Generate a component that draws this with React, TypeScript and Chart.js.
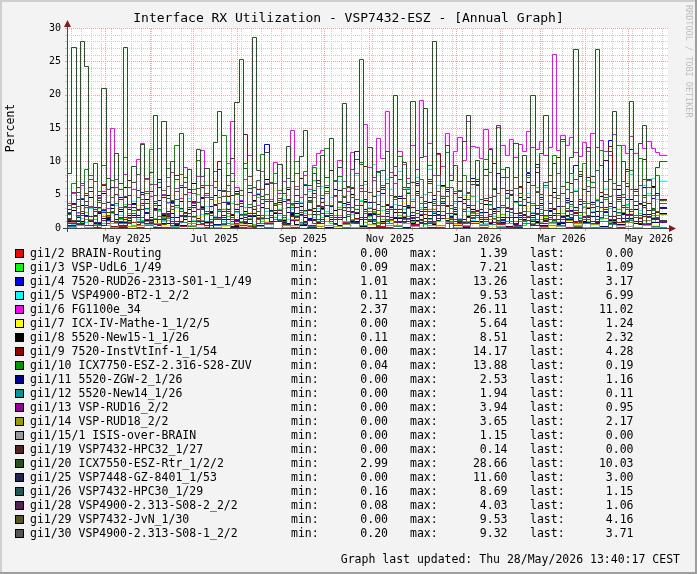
import React, { useEffect, useRef } from 'react';
import { Chart, registerables } from 'chart.js';

Chart.register(...registerables);

const MONO = '"DejaVu Sans Mono", monospace';

const TITLE = 'Interface RX Utilization - VSP7432-ESZ - [Annual Graph]';
const Y_TITLE = 'Percent';
const FOOTER = 'Graph last updated: Thu 28/May/2026 13:40:17 CEST';
const WATERMARK = 'RRDTOOL / TOBI OETIKER';

// time axis: days since 1 May 2025
const X_START = -26.9;
const X_END = 392.6;
const MONTH_STARTS = [-30, 0, 31, 61, 92, 123, 153, 184, 214, 245, 276, 304, 335, 365];
const X_LABELS = ['May 2025', 'Jul 2025', 'Sep 2025', 'Nov 2025', 'Jan 2026', 'Mar 2026', 'May 2026'];
const X_LABEL_DAYS = [15, 76, 138, 199, 260, 319, 380];
const FIRST_WEEK = -24;
const Y_MAX = 30;
const Y_STEP = 5;

// data resolution (days per value)
const STEP_FINE = 3;
const STEP_COARSE = 6;

const SERIES_NAMES = [
  'gi1/2 BRAIN-Routing', 'gi1/3 VSP-UdL6_1/49', 'gi1/4 7520-RUD26-2313-S01-1_1/49', 'gi1/5 VSP4900-BT2-1_2/2',
  'gi1/6 FG1100e_34', 'gi1/7 ICX-IV-Mathe-1_1/2/5', 'gi1/8 5520-New15-1_1/26', 'gi1/9 7520-InstVtInf-1_1/54',
  'gi1/10 ICX7750-ESZ-2.316-S28-ZUV', 'gi1/11 5520-ZGW-2_1/26', 'gi1/12 5520-New14_1/26', 'gi1/13 VSP-RUD16_2/2',
  'gi1/14 VSP-RUD18_2/2', 'gi1/15/1 ISIS-over-BRAIN', 'gi1/19 VSP7432-HPC32_1/27', 'gi1/20 ICX7550-ESZ-Rtr_1/2/2',
  'gi1/25 VSP7448-GZ-8401_1/53', 'gi1/26 VSP7432-HPC30_1/29', 'gi1/28 VSP4900-2.313-S08-2_2/2', 'gi1/29 VSP7432-JvN_1/30',
  'gi1/30 VSP4900-2.313-S08-1_2/2',
];
const SERIES_COLORS = [
  '#FF0000', '#00FF00', '#0000FF', '#00FFFF', '#FF00FF', '#FFFF00', '#000000', '#990000',
  '#009900', '#000099', '#009999', '#990099', '#999900', '#999999', '#552222', '#225522',
  '#222255', '#225555', '#552255', '#555522', '#555555',
];
const LEGEND_MIN = ['0.00', '0.09', '1.01', '0.11', '2.37', '0.00', '0.11', '0.00', '0.04', '0.00', '0.00', '0.00', '0.00', '0.00', '0.00', '2.99', '0.00', '0.16', '0.08', '0.00', '0.20'];
const LEGEND_MAX = ['1.39', '7.21', '13.26', '9.53', '26.11', '5.64', '8.51', '14.17', '13.88', '2.53', '1.94', '3.94', '3.65', '1.15', '0.14', '28.66', '11.60', '8.69', '4.03', '9.53', '9.32'];
const LEGEND_LAST = ['0.00', '1.09', '3.17', '6.99', '11.02', '1.24', '2.32', '4.28', '0.19', '1.16', '0.11', '0.95', '2.17', '0.00', '0.00', '10.03', '3.00', '1.15', '1.06', '4.16', '3.71'];

const gi1_2 = [
  0.2, 0.0, 0.4, 0.1, 0.7, 0.0, 0.3, 0.9, 0.1, 0.5,
  0.0, 0.2, 1.1, 0.3, 0.0, 0.6, 0.2, 0.4, 0.0, 0.8,
  0.1, 0.3, 1.39, 0.2, 0.0, 0.5, 0.1, 0.7, 0.3, 0.0,
  0.4, 0.2, 0.9, 0.1, 0.0, 0.6, 0.3, 0.2, 1.0, 0.0,
  0.4, 0.1, 0.7, 0.2, 0.0, 0.5, 0.3, 0.8, 0.1, 0.0,
  0.6, 0.2, 0.4, 1.2, 0.0, 0.3, 0.1, 0.5, 0.2, 0.9,
  0.0, 0.4, 0.2, 0.6, 0.1, 0.3, 0.0, 0.7, 0.2, 0.0,
];
const gi1_3 = [
  1.1, 0.6, 1.8, 0.9, 2.4, 0.5, 1.3, 3.0, 0.8, 1.6,
  2.2, 0.7, 1.4, 3.6, 1.0, 0.4, 2.0, 1.2, 4.3, 0.9,
  1.5, 2.7, 0.6, 1.9, 0.09, 3.2, 1.1, 2.4, 0.8, 1.7,
  5.1, 1.0, 2.1, 0.7, 1.4, 2.9, 0.5, 1.8, 3.8, 1.2,
  0.8, 2.3, 1.5, 0.6, 4.6, 1.1, 2.0, 0.9, 1.6, 2.8,
  1.3, 0.7, 3.4, 1.9, 0.5, 2.5, 1.2, 7.21, 0.9, 1.7,
  2.2, 0.8, 1.4, 3.1, 1.0, 0.6, 2.6, 1.5, 4.0, 0.9,
  1.8, 2.4, 0.7, 1.3, 3.5, 1.1, 0.5, 2.0, 1.6, 5.4,
  0.9, 1.7, 2.9, 0.6, 1.4, 2.2, 1.0, 3.7, 0.8, 1.5,
  2.6, 1.2, 0.7, 1.9, 4.8, 1.1, 2.3, 0.6, 1.4, 3.0,
  1.0, 2.1, 0.8, 1.6, 3.9, 1.3, 0.5, 2.5, 1.2, 6.1,
  0.9, 1.8, 2.7, 1.0, 0.6, 2.2, 1.5, 3.3, 0.8, 1.9,
  2.4, 1.1, 0.7, 4.4, 1.6, 2.0, 0.9, 1.3, 2.8, 1.0,
  3.6, 1.4, 0.8, 2.3, 1.2, 5.0, 1.7, 0.9, 1.09,
];
const gi1_4 = [
  2.3, 3.8, 1.6, 4.4, 2.0, 1.2, 3.1, 5.0, 2.7, 1.8,
  3.5, 2.1, 4.7, 1.4, 2.9, 3.6, 1.9, 5.4, 2.4, 1.3,
  3.0, 4.2, 2.2, 1.5, 3.9, 2.6, 6.1, 1.7, 2.8, 3.4,
  1.1, 4.6, 2.5, 3.3, 1.8, 5.7, 2.0, 3.7, 1.4, 2.9,
  4.1, 1.6, 3.2, 2.3, 5.1, 1.9, 12.6, 2.7, 3.5, 1.3,
  4.0, 2.4, 1.7, 3.8, 2.1, 6.4, 1.5, 3.0, 2.6, 4.5,
  1.8, 3.3, 5.8, 2.0, 1.01, 3.6, 2.5, 4.3, 1.7, 2.9,
  3.9, 1.4, 2.7, 5.3, 2.2, 3.1, 1.6, 4.8, 2.4, 3.5,
  1.9, 6.8, 2.6, 3.2, 1.5, 4.4, 2.1, 3.7, 5.6, 1.8,
  2.9, 4.0, 1.3, 3.4, 7.5, 2.3, 3.8, 1.7, 4.6, 2.5,
  3.1, 1.6, 5.2, 2.8, 4.1, 1.9, 3.5, 8.3, 2.2, 3.0,
  4.7, 1.5, 2.6, 6.0, 3.3, 1.8, 4.2, 2.7, 9.4, 3.6,
  2.0, 5.5, 3.9, 1.4, 4.8, 2.4, 13.26, 3.2, 5.0, 2.1,
  4.3, 11.8, 2.9, 3.7, 6.2, 1.7, 4.5, 2.6, 3.17,
];
const gi1_5 = [
  1.2, 0.6, 2.3, 1.5, 0.9, 3.0, 1.8, 0.4, 2.6, 1.1,
  0.7, 3.4, 1.9, 0.5, 2.2, 4.1, 1.3, 0.8, 2.8, 1.6,
  0.3, 2.5, 1.0, 3.7, 1.4, 0.6, 2.9, 1.7, 4.5, 1.2,
  0.9, 2.1, 3.3, 0.11, 1.8, 2.7, 1.1, 4.0, 0.8, 2.4,
  1.5, 3.1, 0.7, 2.0, 5.2, 1.3, 2.6, 0.9, 3.5, 1.9,
  4.3, 1.4, 2.8, 0.6, 3.9, 2.2, 5.6, 1.7, 3.0, 6.3,
  2.5, 4.7, 1.6, 7.1, 3.4, 5.5, 2.1, 8.0, 4.2, 6.6,
  3.1, 9.53, 4.9, 2.7, 7.4, 5.8, 3.6, 8.5, 2.9, 6.0,
  4.4, 7.7, 3.2, 5.1, 8.8, 2.4, 6.5, 3.9, 4.8, 2.0,
  3.7, 1.5, 5.0, 2.6, 1.2, 4.1, 2.3, 0.8, 3.4, 1.8,
  2.9, 1.1, 4.6, 2.0, 0.7, 3.6, 1.6, 5.3, 2.4, 1.0,
  3.2, 6.1, 1.9, 2.8, 4.5, 1.4, 3.8, 2.1, 5.7, 1.7,
  3.3, 7.2, 2.5, 4.0, 1.3, 5.9, 3.0, 6.8, 2.2, 4.6,
  3.5, 8.1, 4.9, 2.7, 6.4, 5.2, 7.5, 4.3, 6.99,
];
const gi1_6 = [
  3.8, 5.2, 2.37, 6.4, 4.1, 3.3, 7.0, 4.6, 5.5, 3.0,
  15.0, 6.2, 4.3, 8.1, 3.6, 5.8, 10.4, 12.7, 7.3, 4.8,
  6.6, 12.0, 5.1, 3.9, 8.4, 6.0, 4.5, 9.2, 5.4, 3.7,
  7.8, 11.7, 4.9, 6.5, 3.4, 8.8, 5.6, 9.7, 16.0, 6.1,
  4.2, 7.4, 11.0, 5.0, 3.5, 8.6, 6.8, 4.4, 9.9, 5.3,
  7.1, 3.8, 14.7, 6.3, 4.7, 8.0, 5.9, 9.4, 11.3, 11.7,
  6.4, 8.7, 4.8, 10.2, 7.0, 5.5, 11.4, 8.3, 6.0, 15.6,
  9.1, 7.2, 13.5, 10.5, 17.5, 8.4, 6.7, 11.5, 9.6, 7.5,
  12.4, 8.9, 19.2, 10.8, 12.8, 7.9, 11.1, 9.3, 14.2, 8.0,
  11.6, 13.7, 10.2, 16.0, 12.3, 12.1, 10.5, 14.8, 12.0, 9.8,
  15.2, 12.4, 11.0, 13.4, 10.6, 12.6, 11.5, 14.5, 12.2, 11.8,
  13.0, 10.9, 12.2, 26.11, 11.7, 14.0, 12.4, 13.6, 11.4, 10.8,
  12.9, 11.5, 14.3, 12.1, 13.2, 11.6, 10.9, 14.1, 12.4, 12.5,
  11.3, 13.8, 11.2, 12.7, 12.0, 13.1, 12.0, 11.4, 11.02,
];
const gi1_7 = [
  0.3, 1.2, 0.5, 0.0, 2.1, 0.8, 1.5, 0.2, 3.4, 0.6,
  1.0, 0.4, 2.6, 0.9, 0.1, 1.8, 0.7, 4.2, 0.3, 1.3,
  0.6, 2.4, 0.0, 1.1, 5.64, 0.5, 1.7, 0.9, 2.9, 0.4,
  1.4, 0.2, 3.1, 0.8, 1.6, 0.5, 2.2, 1.0, 0.3, 3.8,
  0.7, 1.9, 0.4, 2.5, 1.2, 0.6, 4.6, 0.9, 1.5, 0.3,
  2.0, 1.1, 0.5, 3.3, 0.8, 1.7, 0.2, 2.7, 1.0, 0.6,
  1.9, 0.4, 3.0, 1.3, 0.7, 2.3, 0.9, 1.6, 0.5, 1.24,
];
const gi1_8 = [
  1.0, 2.7, 0.5, 3.4, 1.8, 4.6, 0.9, 2.2, 5.3, 1.4,
  3.0, 0.7, 2.5, 6.1, 1.2, 3.8, 0.6, 2.9, 4.4, 1.6,
  0.8, 3.5, 1.9, 5.0, 2.3, 0.5, 4.1, 1.3, 2.8, 6.7,
  1.1, 3.2, 0.9, 2.4, 4.9, 1.7, 0.4, 3.6, 2.0, 5.5,
  1.5, 2.6, 0.7, 4.2, 1.9, 3.1, 7.4, 0.8, 2.3, 3.9,
  1.2, 5.8, 2.1, 0.6, 3.3, 1.6, 4.7, 2.5, 0.9, 3.0,
  6.2, 1.4, 2.7, 0.5, 3.7, 1.8, 5.1, 2.2, 0.11, 4.0,
  1.3, 2.9, 8.51, 1.0, 3.4, 0.7, 2.4, 4.5, 1.7, 3.2,
  0.8, 5.6, 2.0, 1.5, 3.9, 0.6, 2.6, 6.4, 1.2, 3.5,
  2.1, 0.9, 4.3, 1.8, 2.8, 7.1, 1.1, 3.6, 0.7, 2.5,
  5.2, 1.6, 3.1, 0.8, 2.3, 4.6, 1.4, 6.9, 2.0, 0.9,
  3.8, 1.3, 2.7, 5.4, 0.6, 3.3, 1.9, 4.1, 2.4, 7.8,
  1.0, 3.0, 0.7, 2.6, 4.8, 1.5, 3.7, 0.9, 5.9, 2.2,
  1.2, 4.4, 2.8, 0.6, 3.5, 1.7, 6.3, 2.0, 2.32,
];
const gi1_9 = [
  1.3, 3.6, 0.5, 2.2, 5.0, 1.0, 0.0, 3.1, 6.4, 1.7,
  2.5, 0.8, 4.3, 1.4, 7.2, 2.0, 0.6, 3.8, 1.2, 5.5,
  2.9, 0.4, 4.6, 1.8, 3.3, 8.0, 1.1, 2.4, 0.7, 4.0,
  1.5, 6.1, 2.6, 0.9, 3.5, 10.1, 1.9, 4.8, 2.1, 0.5,
  3.7, 14.17, 1.4, 2.8, 5.9, 0.8, 3.0, 1.6, 6.8, 2.3,
  0.6, 4.4, 1.8, 3.2, 7.5, 1.0, 2.7, 5.2, 0.9, 3.9,
  2.0, 8.7, 1.3, 4.1, 0.7, 2.5, 6.0, 1.5, 3.4, 9.3,
  1.1, 2.9, 5.6, 0.8, 3.6, 1.7, 7.9, 2.4, 4.5, 1.0,
  3.1, 6.5, 1.4, 2.6, 0.5, 4.9, 11.2, 1.9, 3.3, 2.2,
  5.3, 0.9, 3.8, 1.6, 7.0, 2.7, 0.6, 4.2, 1.8, 9.8,
  2.5, 1.2, 5.7, 3.0, 0.8, 6.3, 2.1, 4.6, 1.3, 8.4,
  3.5, 1.0, 5.0, 2.8, 10.6, 1.7, 3.9, 6.7, 2.2, 4.0,
  1.4, 7.6, 3.2, 0.9, 5.4, 2.6, 12.3, 1.8, 4.7, 3.1,
  8.9, 2.0, 5.8, 1.5, 10.4, 3.7, 6.2, 2.4, 4.28,
];
const gi1_10 = [
  2.4, 6.8, 1.2, 4.5, 8.9, 3.1, 0.7, 5.6, 9.4, 2.0,
  7.2, 3.8, 1.5, 10.6, 4.9, 2.7, 8.1, 0.9, 5.3, 11.8,
  3.4, 6.9, 1.8, 9.0, 4.2, 12.5, 2.6, 7.7, 0.5, 5.9,
  10.2, 3.0, 6.4, 1.3, 8.6, 4.7, 13.88, 2.2, 7.0, 5.1,
  1.0, 9.7, 3.6, 6.1, 0.8, 11.1, 4.4, 2.5, 8.3, 5.7,
  1.9, 7.5, 3.2, 10.0, 0.6, 6.6, 4.0, 9.2, 2.1, 5.0,
  12.0, 3.5, 1.4, 7.8, 4.8, 0.9, 6.2, 2.8, 9.9, 3.9,
  5.4, 1.1, 8.4, 3.3, 6.7, 0.7, 4.6, 10.8, 2.3, 5.8,
  1.6, 7.1, 3.7, 0.04, 9.5, 4.1, 2.0, 6.3, 11.4, 3.0,
  5.5, 1.2, 8.0, 4.3, 2.4, 7.4, 0.9, 10.3, 3.6, 6.0,
  1.7, 8.8, 4.5, 2.9, 12.7, 5.2, 1.0, 7.6, 3.4, 9.1,
  2.2, 6.5, 0.8, 10.9, 4.9, 13.1, 2.7, 8.2, 5.6, 1.5,
  9.8, 3.8, 6.9, 1.3, 11.7, 4.4, 7.3, 2.5, 12.4, 5.1,
  3.1, 8.7, 1.9, 10.5, 4.6, 6.1, 2.8, 7.9, 0.19,
];
const gi1_11 = [
  0.4, 1.1, 0.2, 0.8, 1.5, 0.3, 0.9, 2.0, 0.5, 1.2,
  0.0, 0.7, 1.6, 0.4, 1.0, 0.2, 2.53, 0.6, 1.3, 0.3,
  0.9, 1.8, 0.5, 0.1, 1.1, 0.7, 2.2, 0.4, 1.4, 0.8,
  0.2, 1.7, 0.6, 1.0, 0.3, 2.1, 0.9, 0.5, 1.5, 0.2,
  1.2, 0.7, 1.9, 0.4, 0.8, 1.3, 0.1, 1.0, 2.4, 0.6,
  0.9, 0.3, 1.6, 0.8, 1.1, 0.4, 2.0, 0.7, 1.4, 0.5,
  0.9, 1.8, 0.3, 1.2, 0.6, 1.5, 0.8, 2.1, 0.9, 1.16,
];
const gi1_12 = [
  0.3, 0.8, 0.1, 0.5, 1.2, 0.2, 0.7, 0.0, 1.0, 0.4,
  0.6, 1.5, 0.2, 0.9, 0.3, 0.0, 1.1, 0.5, 0.8, 0.1,
  1.94, 0.4, 0.7, 0.2, 1.3, 0.6, 0.0, 0.9, 0.3, 1.0,
  0.5, 1.6, 0.2, 0.8, 0.4, 1.2, 0.1, 0.7, 0.3, 1.4,
  0.6, 0.0, 0.9, 0.5, 1.1, 0.2, 0.8, 1.7, 0.4, 0.6,
  0.1, 1.0, 0.3, 0.7, 1.3, 0.2, 0.9, 0.5, 1.5, 0.3,
  0.8, 0.1, 1.1, 0.6, 0.4, 1.2, 0.2, 0.7, 0.3, 0.11,
];
const gi1_13 = [
  0.8, 1.9, 0.5, 2.6, 1.2, 0.3, 1.7, 3.1, 0.9, 1.4,
  0.6, 2.2, 1.0, 0.0, 1.8, 2.9, 0.7, 1.3, 3.94, 1.1,
  0.4, 2.0, 1.5, 0.8, 2.7, 0.6, 1.2, 1.9, 0.5, 3.3,
  1.0, 1.6, 0.7, 2.4, 1.3, 0.2, 1.8, 2.8, 0.9, 1.5,
  0.6, 2.1, 1.1, 3.5, 0.8, 1.4, 0.4, 2.5, 1.7, 0.9,
  1.2, 3.0, 0.5, 1.6, 2.2, 0.8, 1.3, 0.3, 2.6, 1.0,
  1.8, 0.7, 3.2, 1.4, 0.9, 2.0, 1.1, 0.6, 1.5, 0.95,
];
const gi1_14 = [
  0.9, 0.4, 1.3, 0.6, 1.8, 0.2, 1.0, 2.3, 0.5, 1.1,
  0.7, 1.6, 0.3, 2.0, 0.8, 1.2, 0.0, 1.5, 2.8, 0.6,
  1.0, 0.4, 1.7, 0.9, 3.65, 0.5, 1.3, 0.8, 2.1, 0.3,
  1.1, 1.9, 0.6, 1.4, 0.2, 2.5, 0.9, 1.2, 0.5, 1.8,
  1.0, 0.7, 2.9, 0.4, 1.5, 0.8, 1.1, 2.2, 0.6, 1.3,
  0.3, 1.7, 1.0, 2.6, 0.7, 1.4, 0.5, 1.9, 1.2, 0.8,
  3.1, 0.6, 1.5, 1.0, 2.4, 0.9, 1.6, 1.2, 2.0, 2.17,
];
const gi1_15_1 = [
  0.2, 0.5, 0.1, 0.0, 0.4, 0.8, 0.2, 0.3, 0.0, 0.6,
  0.1, 1.15, 0.3, 0.0, 0.5, 0.2, 0.7, 0.1, 0.4, 0.0,
  0.9, 0.2, 0.3, 0.6, 0.0, 0.1, 0.5, 0.8, 0.2, 0.0,
  0.4, 0.3, 1.0, 0.1, 0.0, 0.6, 0.2, 0.4, 0.0, 0.7,
  0.3, 0.1, 0.5, 0.0, 0.9, 0.2, 0.4, 0.1, 0.6, 0.0,
  0.3, 0.8, 0.2, 0.0, 0.5, 0.1, 0.7, 0.3, 0.0, 0.4,
  0.2, 0.6, 0.1, 0.0, 0.5, 0.3, 0.2, 0.4, 0.1, 0.0,
];
const gi1_19 = [
  0.0, 0.02, 0.0, 0.05, 0.01, 0.0, 0.08, 0.0, 0.03, 0.0,
  0.14, 0.0, 0.02, 0.06, 0.0, 0.01, 0.0, 0.04, 0.0, 0.09,
  0.0, 0.02, 0.0, 0.07, 0.01, 0.0, 0.03, 0.0, 0.11, 0.0,
  0.02, 0.0, 0.05, 0.0, 0.01, 0.08, 0.0, 0.03, 0.0, 0.06,
  0.0, 0.02, 0.12, 0.0, 0.04, 0.0, 0.01, 0.0, 0.07, 0.0,
  0.03, 0.0, 0.09, 0.0, 0.02, 0.0, 0.05, 0.0, 0.01, 0.10,
  0.0, 0.03, 0.0, 0.06, 0.0, 0.02, 0.0, 0.04, 0.01, 0.0,
];
const gi1_20 = [
  8.2, 27.1, 5.4, 28.0, 24.3, 6.1, 9.8, 4.2, 21.0, 7.5,
  3.6, 11.2, 6.8, 27.1, 4.9, 9.3, 5.7, 12.6, 3.8, 8.4,
  17.0, 6.2, 16.0, 4.5, 10.1, 7.3, 14.2, 5.1, 8.9, 3.9,
  11.8, 6.4, 9.0, 4.7, 12.9, 17.5, 5.6, 7.9, 10.5, 18.9,
  25.3, 9.0, 6.0, 28.66, 8.7, 4.4, 11.4, 6.9, 3.7, 9.6,
  5.2, 12.3, 7.1, 4.0, 10.8, 14.7, 6.5, 8.3, 3.5, 11.0,
  7.7, 13.5, 5.0, 9.2, 18.7, 6.3, 4.6, 10.4, 25.3, 7.0,
  12.1, 4.8, 8.6, 5.9, 11.5, 3.3, 19.9, 7.4, 9.9, 6.1,
  19.0, 5.3, 10.7, 18.0, 6.7, 28.0, 8.0, 4.1, 12.4, 7.2,
  9.5, 5.5, 13.0, 17.0, 6.6, 10.2, 4.3, 8.8, 11.9, 5.8,
  15.5, 7.6, 9.1, 4.9, 12.7, 6.2, 10.9, 8.4, 20.0, 5.4,
  11.3, 17.0, 7.0, 9.7, 4.5, 13.3, 6.9, 10.6, 26.8, 8.1,
  5.9, 12.2, 7.8, 26.9, 9.4, 4.7, 11.6, 17.5, 6.4, 10.0,
  8.5, 19.0, 5.6, 12.8, 15.5, 7.3, 2.99, 9.1, 10.03,
];
const gi1_25 = [
  2.8, 1.1, 4.3, 0.7, 3.5, 5.6, 1.9, 2.4, 0.5, 3.9,
  6.2, 1.4, 2.9, 4.7, 0.8, 3.2, 1.6, 5.1, 2.2, 0.9,
  3.7, 7.4, 1.3, 2.6, 4.1, 0.6, 3.0, 1.8, 5.8, 2.5,
  1.0, 4.5, 2.3, 0.0, 3.6, 8.9, 1.7, 2.8, 4.9, 1.2,
  3.3, 0.7, 5.4, 2.0, 1.5, 3.8, 6.6, 1.1, 2.7, 4.2,
  0.9, 3.1, 1.9, 5.0, 2.4, 0.6, 4.6, 2.1, 7.2, 1.4,
  3.4, 2.2, 0.8, 5.7, 1.6, 3.9, 2.6, 11.60, 1.3, 4.4,
  2.0, 0.7, 3.6, 6.1, 1.8, 2.9, 4.8, 1.0, 3.3, 5.3,
  1.5, 2.7, 0.9, 4.0, 7.0, 2.3, 1.2, 3.7, 5.9, 1.6,
  2.5, 4.6, 0.8, 3.2, 1.9, 6.4, 2.8, 1.1, 4.1, 3.0,
  8.2, 1.4, 2.6, 5.1, 0.6, 3.5, 2.0, 4.7, 1.7, 9.6,
  2.9, 1.2, 3.8, 6.0, 2.2, 0.9, 4.5, 1.6, 3.1, 7.8,
  1.3, 5.5, 2.4, 0.7, 3.9, 10.2, 1.8, 2.6, 4.3, 1.1,
  6.3, 2.1, 3.4, 0.8, 4.9, 2.7, 1.5, 5.2, 3.00,
];
const gi1_26 = [
  1.5, 3.2, 0.8, 2.6, 4.1, 1.2, 2.9, 0.6, 3.7, 1.9,
  2.4, 5.1, 1.0, 3.3, 0.7, 2.2, 4.6, 1.6, 3.0, 0.9,
  2.7, 1.3, 4.9, 2.0, 0.5, 3.5, 1.8, 6.2, 2.3, 1.1,
  3.9, 0.8, 2.5, 4.4, 1.4, 2.8, 0.6, 3.6, 1.7, 5.3,
  2.1, 1.0, 3.1, 0.16, 2.6, 4.8, 1.5, 2.0, 3.4, 1.2,
  0.7, 4.2, 2.4, 1.6, 3.8, 0.9, 2.9, 5.7, 1.3, 2.2,
  3.5, 1.1, 0.6, 4.0, 2.7, 1.8, 3.2, 0.8, 6.5, 2.5,
  1.4, 3.9, 2.1, 8.69, 1.0, 2.8, 4.3, 1.7, 0.9, 3.3,
  2.4, 5.0, 1.2, 2.9, 0.7, 3.7, 1.9, 4.5, 2.2, 1.3,
  3.1, 0.8, 2.6, 5.4, 1.6, 2.0, 3.8, 1.1, 4.7, 2.3,
  0.9, 3.4, 1.7, 2.8, 6.0, 1.4, 2.5, 3.9, 0.6, 2.1,
  4.4, 1.5, 3.0, 2.2, 0.9, 5.2, 1.8, 3.6, 2.7, 1.2,
  4.1, 2.0, 0.7, 3.3, 1.6, 2.9, 4.8, 1.3, 2.4, 3.5,
  1.0, 2.6, 4.0, 1.9, 3.1, 0.8, 2.3, 1.7, 1.15,
];
const gi1_28 = [
  1.2, 0.6, 1.8, 0.9, 2.4, 1.1, 0.5, 1.6, 2.9, 0.8,
  1.4, 2.1, 0.7, 1.9, 3.2, 1.0, 0.4, 1.7, 2.6, 1.3,
  0.9, 2.2, 1.5, 4.03, 1.1, 0.6, 1.8, 2.7, 1.2, 0.8,
  2.0, 1.4, 3.1, 0.9, 1.6, 2.3, 0.08, 1.3, 2.8, 1.0,
  1.7, 0.7, 2.5, 1.5, 3.4, 1.1, 0.9, 2.0, 1.3, 2.9,
  0.8, 1.6, 2.2, 1.2, 0.5, 1.9, 3.0, 1.4, 0.9, 2.4,
  1.7, 1.1, 2.6, 0.7, 1.5, 2.1, 1.0, 1.8, 1.3, 1.06,
];
const gi1_29 = [
  3.4, 1.2, 6.1, 2.5, 5.2, 7.3, 1.8, 3.9, 6.6, 2.0,
  4.7, 0.9, 5.8, 3.1, 1.5, 6.9, 2.7, 4.4, 7.5, 1.3,
  5.0, 2.9, 0.6, 6.3, 3.7, 5.5, 8.1, 2.2, 4.1, 1.0,
  6.0, 3.3, 5.3, 1.9, 7.0, 2.6, 4.8, 6.5, 1.4, 3.6,
  5.7, 2.1, 7.8, 4.0, 0.8, 5.9, 3.0, 6.7, 2.4, 4.5,
  1.1, 6.2, 3.8, 8.3, 2.0, 5.1, 4.2, 0.7, 6.8, 3.2,
  5.6, 1.7, 7.2, 2.8, 4.6, 6.1, 1.2, 3.5, 9.53, 2.3,
  5.4, 3.9, 0.5, 6.4, 2.6, 7.6, 4.3, 1.6, 5.8, 3.0,
  6.9, 2.2, 4.7, 1.0, 7.4, 3.4, 5.5, 2.5, 6.2, 0.0,
  4.0, 7.1, 2.9, 5.2, 1.5, 6.6, 3.7, 8.0, 2.1, 4.8,
  0.9, 6.0, 3.1, 5.7, 7.7, 2.4, 4.3, 1.8, 6.5, 3.5,
  5.1, 2.7, 7.9, 1.2, 4.5, 6.3, 3.0, 5.4, 2.0, 8.5,
  3.8, 1.4, 6.1, 4.2, 2.6, 7.0, 3.3, 5.9, 1.9, 4.6,
  6.7, 2.8, 5.0, 3.6, 7.3, 1.7, 4.9, 2.5, 4.16,
];
const gi1_30 = [
  2.1, 5.4, 3.3, 6.8, 3.2, 7.9, 7.1, 4.5, 2.8, 5.9,
  2.6, 7.4, 3.1, 4.8, 6.2, 2.3, 8.1, 3.5, 5.6, 6.6,
  4.1, 1.8, 5.7, 7.6, 2.8, 4.4, 6.5, 6.9, 3.1, 5.2,
  1.2, 7.8, 4.6, 2.2, 6.1, 3.8, 5.7, 5.5, 8.3, 2.5,
  4.9, 1.4, 6.4, 3.3, 7.2, 2.0, 5.1, 6.9, 6.7, 4.2,
  1.7, 7.5, 3.6, 5.8, 2.4, 8.6, 3.9, 4.7, 6.3, 2.9,
  5.3, 1.0, 7.0, 3.9, 6.0, 2.1, 8.8, 4.3, 5.6, 5.6,
  3.0, 7.7, 2.7, 6.5, 1.3, 5.0, 9.32, 3.4, 6.2, 6.8,
  4.0, 1.1, 7.3, 3.7, 5.4, 2.6, 8.0, 4.8, 4.8, 6.2,
  2.3, 5.7, 0.8, 7.1, 3.5, 6.6, 2.0, 4.5, 8.4, 1.5,
  5.2, 3.1, 7.6, 2.4, 6.0, 4.1, 1.2, 7.9, 3.8, 5.5,
  2.8, 6.9, 1.7, 4.6, 8.2, 3.3, 5.9, 2.1, 7.4, 4.4,
  1.4, 6.3, 3.6, 8.7, 2.5, 5.1, 0.20, 6.7, 4.0, 7.0,
  2.9, 5.8, 1.6, 6.4, 3.9, 7.2, 2.7, 5.0, 3.71,
];

const SERIES_VALUES = [
  gi1_2, gi1_3, gi1_4, gi1_5, gi1_6, gi1_7, gi1_8, gi1_9, gi1_10, gi1_11, gi1_12,
  gi1_13, gi1_14, gi1_15_1, gi1_19, gi1_20, gi1_25, gi1_26, gi1_28, gi1_29, gi1_30,
];
const SERIES_STEPS = [
  STEP_COARSE, STEP_FINE, STEP_FINE, STEP_FINE, STEP_FINE, STEP_COARSE, STEP_FINE, STEP_FINE, STEP_FINE, STEP_COARSE, STEP_COARSE,
  STEP_COARSE, STEP_COARSE, STEP_COARSE, STEP_COARSE, STEP_FINE, STEP_FINE, STEP_FINE, STEP_COARSE, STEP_FINE, STEP_FINE,
];

// ---------- styling ----------
const BG = '#F3F3F3';
const CANVAS_BG = '#FFFFFF';
const SHADE_A = '#CFCFCF';
const SHADE_B = '#9E9E9E';
const GRID_MINOR = '#CACACA';
const GRID_MAJOR = '#EFA0A0';
const AXIS_COLOR = '#3A4A44';
const ARROW_COLOR = '#8B1A1A';

function toPoints(values: number[], step: number) {
  const pts = values.map((v, i) => ({ x: X_START + i * step, y: v }));
  pts.push({ x: X_END, y: values[values.length - 1] });
  return pts;
}

const snapPlugin = {
  id: 'snap',
  afterDatasetsUpdate(chart: any) {
    chart.getSortedVisibleDatasetMetas().forEach((meta: any) => {
      meta.data.forEach((p: any) => {
        p.x = Math.round(p.x) + 0.5;
        p.y = Math.round(p.y) + 0.5;
      });
    });
  },
};

function seg(ctx: CanvasRenderingContext2D, x1: number, y1: number, x2: number, y2: number) {
  ctx.beginPath();
  ctx.moveTo(x1, y1);
  ctx.lineTo(x2, y2);
  ctx.stroke();
}

const decorPlugin = {
  id: 'rrdDecor',
  beforeDraw(chart: any) {
    const { ctx, chartArea: a, width, height } = chart;
    ctx.save();
    ctx.fillStyle = BG;
    ctx.fillRect(0, 0, width, height);
    ctx.fillStyle = SHADE_A;
    ctx.fillRect(0, 0, width, 2);
    ctx.fillRect(0, 0, 2, height);
    ctx.fillStyle = SHADE_B;
    ctx.fillRect(0, height - 2, width, 2);
    ctx.fillRect(width - 2, 0, 2, height);
    ctx.fillStyle = CANVAS_BG;
    ctx.fillRect(a.left, a.top, a.right - a.left + 1, a.bottom - a.top);
    ctx.restore();
  },
  beforeDatasetsDraw(chart: any) {
    const { ctx, chartArea: a } = chart;
    const xs = chart.scales.x;
    const ys = chart.scales.y;
    ctx.save();
    ctx.lineWidth = 1;
    // minor grid
    ctx.strokeStyle = GRID_MINOR;
    ctx.setLineDash([1, 1]);
    for (let d = FIRST_WEEK; d <= X_END; d += 7) {
      const px = Math.round(xs.getPixelForValue(d)) + 0.5;
      if (px <= a.left + 1 || px > a.right) continue;
      seg(ctx, px, a.bottom, px, a.top);
    }
    for (let v = 1; v < Y_MAX; v++) {
      if (v % Y_STEP === 0) continue;
      const py = Math.round(ys.getPixelForValue(v)) + 0.5;
      seg(ctx, a.left, py, a.right + 1, py);
      ctx.setLineDash([]);
      seg(ctx, a.left - 2, py, a.left, py);
      ctx.setLineDash([1, 1]);
    }
    // major grid
    ctx.strokeStyle = GRID_MAJOR;
    for (const d of MONTH_STARTS) {
      const px = Math.round(xs.getPixelForValue(d)) + 0.5;
      if (px <= a.left + 1 || px > a.right) continue;
      seg(ctx, px, a.bottom, px, a.top);
      ctx.setLineDash([]);
      seg(ctx, px, a.bottom, px, a.bottom + 3);
      ctx.setLineDash([1, 1]);
    }
    for (let v = Y_STEP; v <= Y_MAX; v += Y_STEP) {
      const py = Math.round(ys.getPixelForValue(v)) + 0.5;
      seg(ctx, a.left, py, a.right + 1, py);
      ctx.setLineDash([]);
      seg(ctx, a.left - 2, py, a.left, py);
      ctx.setLineDash([1, 1]);
    }
    ctx.restore();
  },
  afterDatasetsDraw(chart: any) {
    const { ctx, chartArea: a } = chart;
    ctx.save();
    ctx.lineWidth = 1;
    ctx.setLineDash([]);
    ctx.strokeStyle = AXIS_COLOR;
    const by = Math.round(a.bottom) + 0.5;
    const ax = Math.round(a.left) + 0.5;
    seg(ctx, a.left - 4, by, a.right + 4, by);
    seg(ctx, ax, a.bottom + 4, ax, a.top - 4);
    ctx.fillStyle = ARROW_COLOR;
    ctx.beginPath();
    ctx.moveTo(a.right + 2, by - 3.5);
    ctx.lineTo(a.right + 9, by);
    ctx.lineTo(a.right + 2, by + 3.5);
    ctx.closePath();
    ctx.fill();
    ctx.beginPath();
    ctx.moveTo(ax - 3.5, a.top - 1);
    ctx.lineTo(ax, a.top - 8);
    ctx.lineTo(ax + 3.5, a.top - 1);
    ctx.closePath();
    ctx.fill();
    ctx.restore();
  },
  afterDraw(chart: any) {
    const { ctx, chartArea: a, width } = chart;
    ctx.save();
    ctx.fillStyle = '#000000';
    // title
    ctx.font = `13px ${MONO}`;
    ctx.textAlign = 'center';
    ctx.textBaseline = 'middle';
    ctx.fillText(TITLE, width / 2, 19);
    // y title
    ctx.save();
    ctx.font = `11.5px ${MONO}`;
    ctx.translate(11, (a.top + a.bottom) / 2);
    ctx.rotate(-Math.PI / 2);
    ctx.fillText(Y_TITLE, 0, 0);
    ctx.restore();
    // watermark
    ctx.save();
    ctx.font = `8.5px ${MONO}`;
    ctx.fillStyle = '#BDBDBD';
    ctx.translate(688, 5);
    ctx.rotate(Math.PI / 2);
    ctx.textAlign = 'left';
    ctx.fillText(WATERMARK, 0, 0);
    ctx.restore();
    // legend
    ctx.font = `11.5px ${MONO}`;
    ctx.textBaseline = 'middle';
    SERIES_NAMES.forEach((name, i) => {
      const cy = 254 + i * 14;
      const top = Math.round(cy - 5);
      ctx.fillStyle = '#000000';
      ctx.fillRect(15, top, 9, 9);
      ctx.fillStyle = SERIES_COLORS[i];
      ctx.fillRect(16, top + 1, 7, 7);
      ctx.fillStyle = '#000000';
      ctx.textAlign = 'left';
      ctx.fillText(name, 30, cy);
      ctx.fillText('min:', 291, cy);
      ctx.fillText('max:', 410, cy);
      ctx.fillText('last:', 530, cy);
      ctx.textAlign = 'right';
      ctx.fillText(LEGEND_MIN[i], 388, cy);
      ctx.fillText(LEGEND_MAX[i], 507.5, cy);
      ctx.fillText(LEGEND_LAST[i], 633.5, cy);
    });
    // footer
    ctx.textAlign = 'right';
    ctx.fillText(FOOTER, 680, 560);
    ctx.restore();
  },
};

export default function App() {
  const ref = useRef<HTMLCanvasElement>(null);
  useEffect(() => {
    document.body.style.margin = '0';
    const datasets = SERIES_NAMES.map((name, i) => ({
      label: name,
      data: toPoints(SERIES_VALUES[i], SERIES_STEPS[i]),
      borderColor: SERIES_COLORS[i],
      backgroundColor: SERIES_COLORS[i],
      borderWidth: 1,
      pointRadius: 0,
      stepped: true,
      fill: false,
      tension: 0,
    })).reverse();
    const chart = new Chart(ref.current as HTMLCanvasElement, {
      type: 'line',
      data: { datasets },
      options: {
        responsive: false,
        animation: false,
        devicePixelRatio: 1,
        events: [],
        layout: { padding: { left: 0, top: 28, right: 30, bottom: 326 } },
        plugins: {
          legend: { display: false },
          tooltip: { enabled: false },
          title: { display: false },
        },
        scales: {
          x: {
            type: 'linear',
            min: X_START,
            max: X_END,
            grid: { display: false, drawTicks: false, tickLength: 0 },
            border: { display: false },
            afterBuildTicks: (s: any) => {
              s.ticks = X_LABEL_DAYS.map((v) => ({ value: v }));
            },
            afterFit: (s: any) => {
              s.height = 20;
            },
            ticks: {
              autoSkip: false,
              maxRotation: 0,
              minRotation: 0,
              padding: 5,
              color: '#000000',
              font: { family: MONO, size: 10 },
              callback: (_v: any, i: number) => X_LABELS[i],
            },
          },
          y: {
            type: 'linear',
            min: 0,
            max: Y_MAX,
            grid: { display: false, drawTicks: false, tickLength: 0 },
            border: { display: false },
            afterFit: (s: any) => {
              s.width = 67;
            },
            ticks: {
              stepSize: Y_STEP,
              padding: 6,
              color: '#000000',
              font: { family: MONO, size: 10 },
              callback: (v: any) => String(v),
            },
          },
        },
      } as any,
      plugins: [snapPlugin, decorPlugin],
    });
    return () => chart.destroy();
  }, []);
  return (
    <div style={{ width: 697, height: 574 }}>
      <canvas ref={ref} width={697} height={574} style={{ display: 'block', width: 697, height: 574 }} />
    </div>
  );
}
